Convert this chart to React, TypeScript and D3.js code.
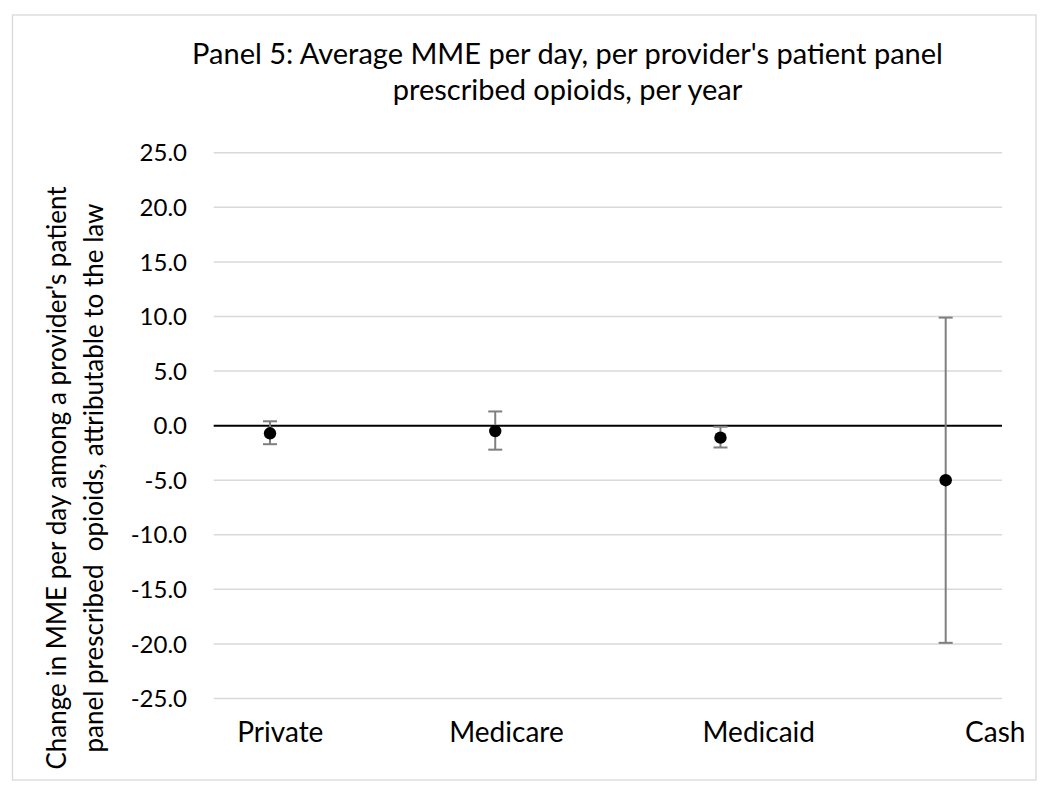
import React from "react";
import * as d3 from "d3";

const categories = ["Private", "Medicare", "Medicaid", "Cash"];
const estimates = [-0.7, -0.5, -1.1, -5.0];
const lowerCI = [-1.7, -2.2, -2.0, -19.9];
const upperCI = [0.4, 1.3, -0.1, 9.9];
const categoryLabelPos = [1.046, 2.05, 3.17, 4.22];
const yTicks = [25, 20, 15, 10, 5, 0, -5, -10, -15, -20, -25];
const titleLines = [
  "Panel 5: Average MME per day, per provider's patient panel",
  "prescribed opioids, per year",
];
const yTitleLines = [
  "Change in MME per day among a provider's patient",
  "panel prescribed  opioids, attributable to the law",
];

const W = 1050;
const H = 796;
const FONT = "Lato, 'Open Sans', sans-serif";

export default function App() {
  const x = d3.scaleLinear().domain([0.75, 4.25]).range([213.7, 1002]);
  const y = d3.scaleLinear().domain([-25, 25]).range([698.5, 152.8]);
  const fmt = d3
    .formatLocale({ decimal: ".", thousands: ",", grouping: [3], currency: ["$", ""], minus: "-" })
    .format(".1f");
  const pts = categories.map((c, i) => ({
    c,
    xv: i + 1,
    est: estimates[i],
    lo: lowerCI[i],
    hi: upperCI[i],
  }));
  const capW = 7;
  return (
    <svg
      width={W}
      height={H}
      style={{ position: "absolute", left: 0, top: 0, background: "#fff" }}
      fontFamily={FONT}
    >
      <rect x={0} y={0} width={W} height={H} fill="#fff" />
      <rect x={12.5} y={15} width={1023.5} height={765} fill="none" stroke="#d9d9d9" strokeWidth={1.3} />
      {titleLines.map((t, i) => (
        <text key={i} x={567.5} y={64 + i * 36} textAnchor="middle" fontSize={29} fill="#000">
          {t}
        </text>
      ))}
      {yTitleLines.map((t, i) => (
        <text
          key={i}
          transform={`translate(${66 + i * 36.5},478) rotate(-90)`}
          textAnchor="middle"
          fontSize={26}
          fill="#000"
          style={{ whiteSpace: "pre" }}
        >
          {t}
        </text>
      ))}
      {yTicks.map((t) => (
        <g key={t}>
          {t !== 0 && (
            <line x1={x(0.75)} x2={x(4.25)} y1={y(t)} y2={y(t)} stroke="#d9d9d9" strokeWidth={1.5} />
          )}
          <text x={187} y={y(t)} dy="0.36em" textAnchor="end" fontSize={24} fill="#000">
            {fmt(t)}
          </text>
        </g>
      ))}
      <line x1={x(0.75)} x2={x(4.25)} y1={y(0)} y2={y(0)} stroke="#000" strokeWidth={2} />
      {pts.map((p) => (
        <g key={p.c}>
          <line x1={x(p.xv)} x2={x(p.xv)} y1={y(p.hi)} y2={y(p.lo)} stroke="#7f7f7f" strokeWidth={2} />
          <line x1={x(p.xv) - capW} x2={x(p.xv) + capW} y1={y(p.hi)} y2={y(p.hi)} stroke="#7f7f7f" strokeWidth={2} />
          <line x1={x(p.xv) - capW} x2={x(p.xv) + capW} y1={y(p.lo)} y2={y(p.lo)} stroke="#7f7f7f" strokeWidth={2} />
          <circle cx={x(p.xv)} cy={y(p.est)} r={6.2} fill="#000" />
        </g>
      ))}
      {categories.map((c, i) => (
        <text key={c} x={x(categoryLabelPos[i])} y={741.7} textAnchor="middle" fontSize={28} fill="#000">
          {c}
        </text>
      ))}
    </svg>
  );
}
